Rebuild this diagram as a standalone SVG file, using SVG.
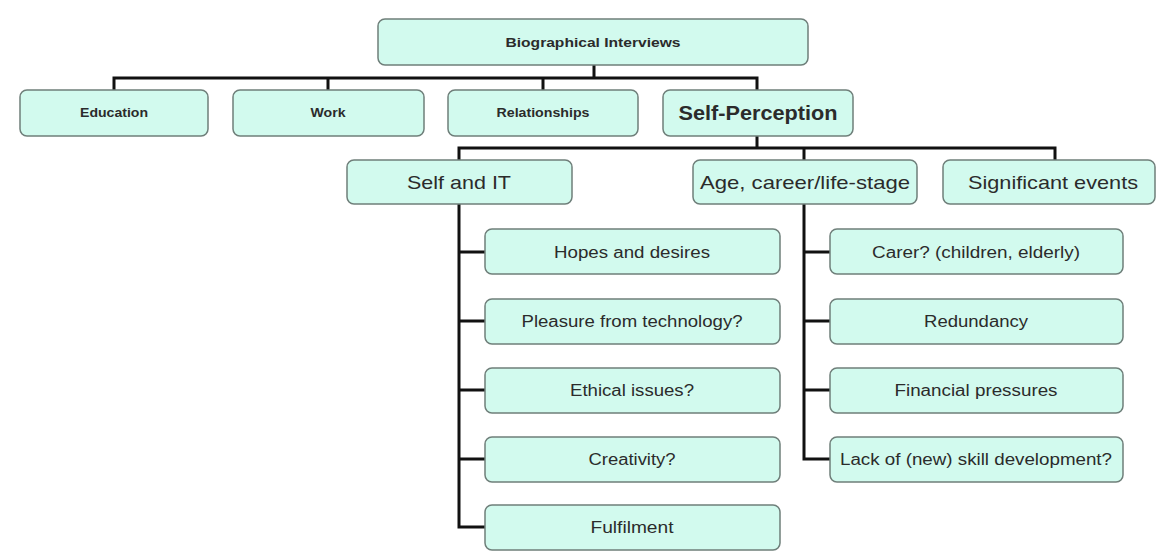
<svg xmlns="http://www.w3.org/2000/svg" width="1160" height="552" viewBox="0 0 1160 552">
<style>
.box{fill:#d2faee;stroke:#6f7f7a;stroke-width:1.5}
.t{font-family:"Liberation Sans",Arial,sans-serif;fill:#2b2b2b;text-anchor:middle;dominant-baseline:central}
.s{font-size:12px;font-weight:bold}
.big{font-size:20px;font-weight:bold}
.l3{font-size:19px}
.l4{font-size:16px}
.c{fill:none;stroke:#111;stroke-width:3}
</style>
<rect width="1160" height="552" fill="#fff"/>
<g id="connectors">
<path class="c" d="M594 65V78M114 90V78H757V90M328 78V90M543 78V90"/>
<path class="c" d="M757 136V148M459 160V148H1055V160M804 148V160"/>
<path class="c" d="M459 204V527H485M459 252H485M459 321H485M459 390H485M459 459H485"/>
<path class="c" d="M804 204V459H830M804 252H830M804 321H830M804 390H830"/>
</g>
<g id="biographical"><rect class="box" x="378" y="19" width="430" height="46" rx="7"/><text class="t s" x="593" y="43" textLength="175" lengthAdjust="spacingAndGlyphs">Biographical Interviews</text></g>
<g id="education"><rect class="box" x="20" y="90" width="188" height="46" rx="7"/><text class="t s" x="114" y="113" textLength="68" lengthAdjust="spacingAndGlyphs">Education</text></g>
<g id="work"><rect class="box" x="233" y="90" width="191" height="46" rx="7"/><text class="t s" x="328" y="113" textLength="35" lengthAdjust="spacingAndGlyphs">Work</text></g>
<g id="relationships"><rect class="box" x="448" y="90" width="190" height="46" rx="7"/><text class="t s" x="543" y="113" textLength="93" lengthAdjust="spacingAndGlyphs">Relationships</text></g>
<g id="self-perception"><rect class="box" x="663" y="90" width="190" height="46" rx="7"/><text class="t big" x="758" y="113" textLength="159" lengthAdjust="spacingAndGlyphs">Self-Perception</text></g>
<g id="self-it"><rect class="box" x="347" y="160" width="225" height="44" rx="7"/><text class="t l3" x="459" y="182" textLength="104" lengthAdjust="spacingAndGlyphs">Self and IT</text></g>
<g id="age"><rect class="box" x="693" y="160" width="224" height="44" rx="7"/><text class="t l3" x="805" y="182" textLength="210" lengthAdjust="spacingAndGlyphs">Age, career/life-stage</text></g>
<g id="significant"><rect class="box" x="943" y="160" width="212" height="44" rx="7"/><text class="t l3" x="1053" y="182" textLength="170" lengthAdjust="spacingAndGlyphs">Significant events</text></g>
<g id="hopes"><rect class="box" x="485" y="229" width="295" height="45" rx="7"/><text class="t l4" x="632" y="252" textLength="156" lengthAdjust="spacingAndGlyphs">Hopes and desires</text></g>
<g id="pleasure"><rect class="box" x="485" y="299" width="295" height="45" rx="7"/><text class="t l4" x="632" y="321" textLength="221" lengthAdjust="spacingAndGlyphs">Pleasure from technology?</text></g>
<g id="ethical"><rect class="box" x="485" y="368" width="295" height="45" rx="7"/><text class="t l4" x="632" y="390" textLength="124" lengthAdjust="spacingAndGlyphs">Ethical issues?</text></g>
<g id="creativity"><rect class="box" x="485" y="437" width="295" height="45" rx="7"/><text class="t l4" x="632" y="459" textLength="87" lengthAdjust="spacingAndGlyphs">Creativity?</text></g>
<g id="fulfilment"><rect class="box" x="485" y="505" width="295" height="45" rx="7"/><text class="t l4" x="632" y="527" textLength="83" lengthAdjust="spacingAndGlyphs">Fulfilment</text></g>
<g id="carer"><rect class="box" x="830" y="229" width="293" height="45" rx="7"/><text class="t l4" x="976" y="252" textLength="208" lengthAdjust="spacingAndGlyphs">Carer? (children, elderly)</text></g>
<g id="redundancy"><rect class="box" x="830" y="299" width="293" height="45" rx="7"/><text class="t l4" x="976" y="321" textLength="104" lengthAdjust="spacingAndGlyphs">Redundancy</text></g>
<g id="financial"><rect class="box" x="830" y="368" width="293" height="45" rx="7"/><text class="t l4" x="976" y="390" textLength="163" lengthAdjust="spacingAndGlyphs">Financial pressures</text></g>
<g id="lack"><rect class="box" x="830" y="437" width="293" height="45" rx="7"/><text class="t l4" x="976" y="459" textLength="272" lengthAdjust="spacingAndGlyphs">Lack of (new) skill development?</text></g>
</svg>
